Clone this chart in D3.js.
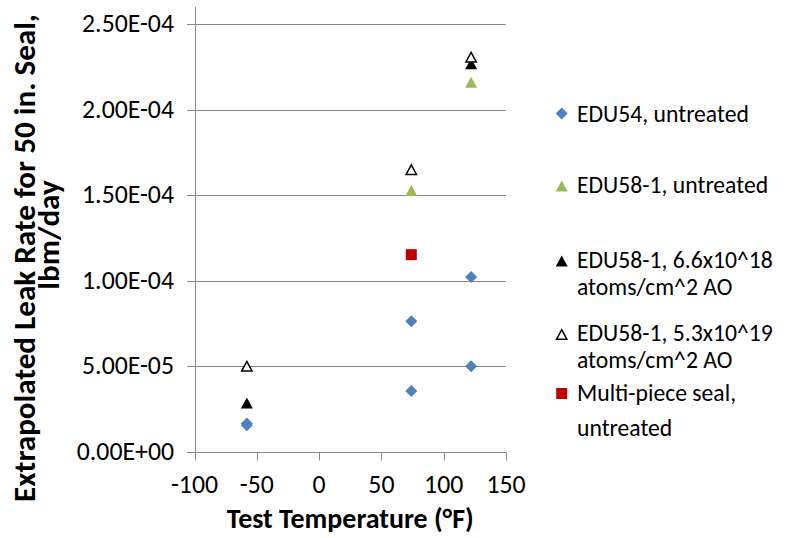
<!DOCTYPE html>
<html><head><meta charset="utf-8">
<script src="https://cdn.jsdelivr.net/npm/d3@7"></script>
<style>body{margin:0;background:#fff}svg{display:block}</style>
</head><body>
<svg id="c" width="787" height="538"></svg>
<script>
// ---- data ----
const xTickValues = [-100, -50, 0, 50, 100, 150];
const yTickValues = [0, 5e-5, 1e-4, 1.5e-4, 2e-4, 2.5e-4];
const yTickLabels = ["0.00E+00", "5.00E-05", "1.00E-04", "1.50E-04", "2.00E-04", "2.50E-04"];

const edu54Temp = [-58, -58, 74, 74, 122, 122];
const edu54Leak = [1.67e-5, 1.57e-5, 7.64e-5, 3.57e-5, 1.022e-4, 5.01e-5];
const edu58Temp = [74, 122];
const edu58Leak = [1.528e-4, 2.160e-4];
const edu58AoLowTemp = [-58, 122];
const edu58AoLowLeak = [2.86e-5, 2.268e-4];
const edu58AoHighTemp = [-58, 74, 122];
const edu58AoHighLeak = [5.01e-5, 1.65e-4, 2.307e-4];
const multiTemp = [74];
const multiLeak = [1.153e-4];

const legendLines = [
  ["EDU54, untreated"],
  ["EDU58-1, untreated"],
  ["EDU58-1, 6.6x10^18", "atoms/cm^2 AO"],
  ["EDU58-1, 5.3x10^19", "atoms/cm^2 AO"],
  ["Multi-piece seal,", "untreated"]
];
const xTitle = "Test Temperature (°F)";
const yTitleLines = ["Extrapolated Leak Rate for 50 in. Seal,", "lbm/day"];

// ---- setup ----
const FONT = "Carlito, Calibri, Lato, 'Open Sans', sans-serif";
const svg = d3.select("#c");
const x = d3.scaleLinear().domain([-100, 150]).range([194.5, 506]);
const y = d3.scaleLinear().domain([0, 2.6e-4]).range([452, 7]);
const crisp = v => Math.round(v) + 0.5;

function sizeFor(str, weight, target) {
  const t = svg.append("text").attr("font-family", FONT).attr("font-weight", weight)
    .attr("font-size", 100).text(str);
  const w = t.node().getComputedTextLength();
  t.remove();
  return 100 * target / w;
}
const tickFs = sizeFor("2.50E-04", "normal", 92);
const legFs = sizeFor("EDU54, untreated", "normal", 172);
const xTitleFs = sizeFor(xTitle, "bold", 247);
const yTitleFs = sizeFor(yTitleLines[0], "bold", 488);

const gridColor = "#888888";

// gridlines (with outward left ticks)
svg.append("g").selectAll("line").data(yTickValues).join("line")
  .attr("x1", 187).attr("x2", x.range()[1])
  .attr("y1", d => crisp(y(d))).attr("y2", d => crisp(y(d)))
  .attr("stroke", gridColor).attr("stroke-width", 1);

// y axis line
svg.append("line").attr("x1", crisp(x(-100))).attr("x2", crisp(x(-100)))
  .attr("y1", y.range()[1]).attr("y2", crisp(y(0)))
  .attr("stroke", gridColor).attr("stroke-width", 1);

// x ticks
svg.append("g").selectAll("line").data(xTickValues).join("line")
  .attr("x1", d => crisp(x(d))).attr("x2", d => crisp(x(d)))
  .attr("y1", crisp(y(0))).attr("y2", crisp(y(0)) + 8)
  .attr("stroke", gridColor).attr("stroke-width", 1);

// y tick labels
svg.append("g").selectAll("text").data(yTickValues).join("text")
  .attr("x", 174).attr("y", d => y(d) + 8)
  .attr("text-anchor", "end").attr("font-family", FONT).attr("font-size", tickFs)
  .attr("fill", "#000").text((d, i) => yTickLabels[i]);

// x tick labels
svg.append("g").selectAll("text").data(xTickValues).join("text")
  .attr("x", d => x(d)).attr("y", 493)
  .attr("text-anchor", "middle").attr("font-family", FONT).attr("font-size", tickFs)
  .attr("fill", "#000").text(d => d);

// axis titles
svg.append("text").attr("x", (x.range()[0] + x.range()[1]) / 2).attr("y", 528)
  .attr("text-anchor", "middle").attr("font-family", FONT).attr("font-weight", "bold")
  .attr("font-size", xTitleFs).attr("fill", "#000").text(xTitle);

// y title: one text element, two lines (page x = baseline, page y = centre)
const yTitlePos = [[35, 258], [59, 235]];
const yt = svg.append("text").attr("transform", "rotate(-90)")
  .attr("text-anchor", "middle").attr("font-family", FONT).attr("font-weight", "bold")
  .attr("font-size", yTitleFs).attr("fill", "#000");
yt.selectAll("tspan").data(yTitleLines).join("tspan")
  .attr("x", (d, i) => -yTitlePos[i][1]).attr("y", (d, i) => yTitlePos[i][0]).text(d => d);

// ---- marker shapes ----
const diamond = { draw(ctx) { const r = 6; ctx.moveTo(0, -r); ctx.lineTo(r, 0); ctx.lineTo(0, r); ctx.lineTo(-r, 0); ctx.closePath(); } };
const tri = { draw(ctx) { const w = 6, h = 5.5; ctx.moveTo(0, -h); ctx.lineTo(w, h); ctx.lineTo(-w, h); ctx.closePath(); } };
const triSmall = { draw(ctx) { const w = 5.2, h = 4.8; ctx.moveTo(0, -h); ctx.lineTo(w, h); ctx.lineTo(-w, h); ctx.closePath(); } };
const square = { draw(ctx) { const r = 5.5; ctx.rect(-r, -r, 2 * r, 2 * r); } };

const series = [
  { t: edu54Temp, v: edu54Leak, sym: diamond, fill: "#4F81BD", stroke: "none", sw: 0 },
  { t: edu58Temp, v: edu58Leak, sym: tri, fill: "#9BBB59", stroke: "none", sw: 0 },
  { t: edu58AoLowTemp, v: edu58AoLowLeak, sym: tri, fill: "#000000", stroke: "none", sw: 0 },
  { t: edu58AoHighTemp, v: edu58AoHighLeak, sym: triSmall, fill: "#ffffff", stroke: "#000000", sw: 1.5 },
  { t: multiTemp, v: multiLeak, sym: square, fill: "#C00000", stroke: "none", sw: 0 }
];

series.forEach(s => {
  svg.append("g").selectAll("path").data(s.t.map((t, i) => [t, s.v[i]])).join("path")
    .attr("transform", d => `translate(${x(d[0])},${y(d[1])})`)
    .attr("d", d3.symbol().type(s.sym)())
    .attr("fill", s.fill).attr("stroke", s.stroke).attr("stroke-width", s.sw);
});

// ---- legend ----
const legMarkerY = [113.5, 186, 261, 334.5, 393.5];
const legBaselines = [[121.5], [193], [268, 295], [341, 368], [401, 436]];
const leg = svg.append("g");
series.forEach((s, i) => {
  leg.append("path").attr("transform", `translate(561.7,${legMarkerY[i]})`)
    .attr("d", d3.symbol().type(s.sym)())
    .attr("fill", s.fill).attr("stroke", s.stroke).attr("stroke-width", s.sw);
  const t = leg.append("text").attr("font-family", FONT).attr("font-size", legFs).attr("fill", "#000");
  t.selectAll("tspan").data(legendLines[i]).join("tspan")
    .attr("x", 577).attr("y", (d, j) => legBaselines[i][j]).text(d => d);
});
</script>
</body></html>
